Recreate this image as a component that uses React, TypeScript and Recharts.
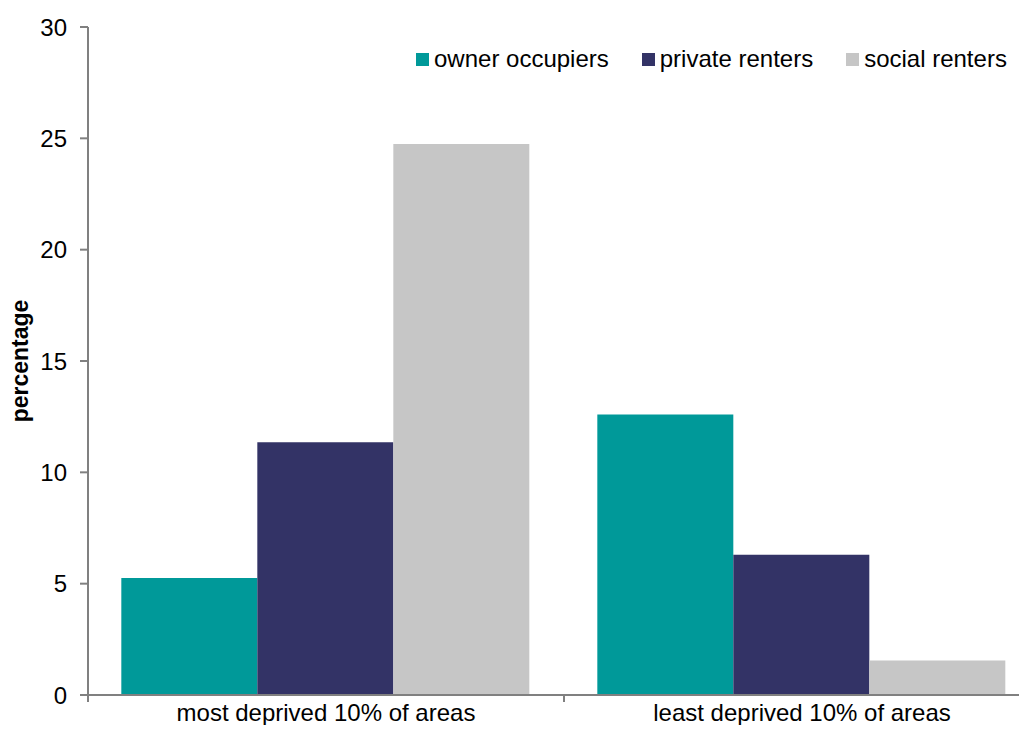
import { Bar, BarChart, XAxis, YAxis } from "recharts";

const areas = ["most deprived 10% of areas", "least deprived 10% of areas"];
const ownerOccupiers = [5.25, 12.6];
const privateRenters = [11.35, 6.3];
const socialRenters = [24.75, 1.55];
const yTicks = [0, 5, 10, 15, 20, 25, 30];

const series = [
  { key: "owner", name: "owner occupiers", color: "#009999" },
  { key: "private", name: "private renters", color: "#333366" },
  { key: "social", name: "social renters", color: "#c6c6c6" },
];

const data = areas.map((area, i) => ({
  area,
  owner: ownerOccupiers[i],
  private: privateRenters[i],
  social: socialRenters[i],
}));

const font = "'Liberation Sans', Arial, sans-serif";

function ChartLegend() {
  return (
    <div
      style={{
        position: "absolute",
        left: 416,
        top: 45,
        display: "flex",
        whiteSpace: "nowrap",
        fontFamily: font,
        fontSize: 24,
        lineHeight: "28px",
        color: "#000",
      }}
    >
      {series.map((s) => (
        <div key={s.key} style={{ display: "flex", alignItems: "center", marginRight: 33 }}>
          <span style={{ width: 13, height: 13, background: s.color, marginRight: 5, display: "inline-block" }} />
          <span>{s.name}</span>
        </div>
      ))}
    </div>
  );
}

function YLabel({ viewBox }: any) {
  const cx = 28;
  const cy = viewBox.y + viewBox.height / 2;
  return (
    <text
      x={cx}
      y={cy}
      transform={`rotate(-90 ${cx} ${cy})`}
      textAnchor="middle"
      fontFamily={font}
      fontSize={23}
      fontWeight="bold"
      fill="#000"
    >
      percentage
    </text>
  );
}

// category labels sit at the centre, tick marks at the category boundaries
function AreaTick({ x, payload }: any) {
  const half = payload.offset || 238;
  const axisY = 695;
  return (
    <g>
      <line x1={x - half} y1={axisY} x2={x - half} y2={axisY + 7} stroke="#808080" strokeWidth={2} />
      <line x1={x + half} y1={axisY} x2={x + half} y2={axisY + 7} stroke="#808080" strokeWidth={2} />
      <text x={x} y={axisY + 26} textAnchor="middle" fontFamily={font} fontSize={24} fill="#000">
        {payload.value}
      </text>
    </g>
  );
}

export default function App() {
  return (
    <div style={{ margin: -8, width: 1027, height: 733, overflow: "hidden", background: "#fff", position: "relative" }}>
      <BarChart
        width={1045}
        height={760}
        data={data}
        margin={{ top: 27, right: 5, left: 0, bottom: 20 }}
        barCategoryGap="7%"
        barGap={0}
      >
        <XAxis
          dataKey="area"
          height={45}
          stroke="#808080"
          strokeWidth={2}
          tickLine={false}
          tick={<AreaTick />}
        />
        <YAxis
          width={88}
          domain={[0, 30]}
          ticks={yTicks}
          stroke="#808080"
          strokeWidth={2}
          tickSize={8}
          tickMargin={13}
          tick={{ fill: "#000", fontSize: 24, fontFamily: font }}
          label={{ content: YLabel as any }}
        />
        {series.map((s) => (
          <Bar key={s.key} dataKey={s.key} name={s.name} fill={s.color} isAnimationActive={false} />
        ))}
      </BarChart>
      <ChartLegend />
    </div>
  );
}
